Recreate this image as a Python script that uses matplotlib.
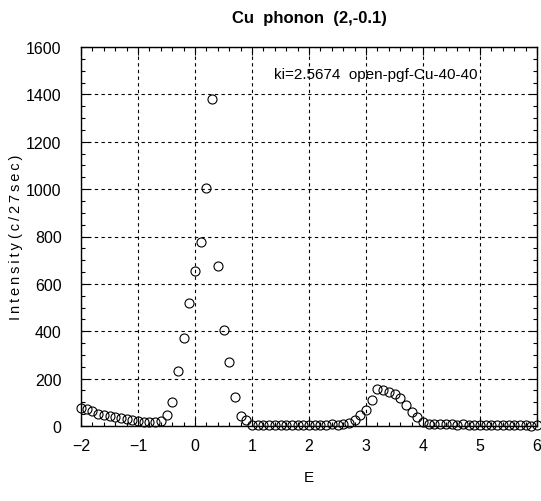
import numpy as np
import matplotlib
matplotlib.use("Agg")
import matplotlib.pyplot as plt
from matplotlib.ticker import MultipleLocator

plt.rcParams['font.family'] = ['Liberation Sans', 'DejaVu Sans']

# energy scan and counts
energia = [-2.0, -1.9, -1.8, -1.7, -1.6, -1.5, -1.4, -1.3, -1.2, -1.1,
           -1.0, -0.9, -0.8, -0.7, -0.6, -0.5, -0.4, -0.3, -0.2, -0.1,
           0.0, 0.1, 0.2, 0.3, 0.4, 0.5, 0.6, 0.7, 0.8, 0.9,
           1.0, 1.1, 1.2, 1.3, 1.4, 1.5, 1.6, 1.7, 1.8, 1.9,
           2.0, 2.1, 2.2, 2.3, 2.4, 2.5, 2.6, 2.7, 2.8, 2.9,
           3.0, 3.1, 3.2, 3.3, 3.4, 3.5, 3.6, 3.7, 3.8, 3.9,
           4.0, 4.1, 4.2, 4.3, 4.4, 4.5, 4.6, 4.7, 4.8, 4.9,
           5.0, 5.1, 5.2, 5.3, 5.4, 5.5, 5.6, 5.7, 5.8, 5.9,
           6.0]
intensidade = [78, 70, 63, 52, 46, 42, 37, 33, 30, 24,
               20, 17, 16, 18, 22, 46, 103, 233, 370, 520,
               655, 775, 1005, 1380, 676, 406, 271, 124, 43, 25,
               6, 4, 5, 4, 5, 6, 5, 4, 5, 6,
               5, 4, 6, 5, 7, 6, 8, 14, 24, 46,
               69, 111, 156, 150, 142, 134, 117, 89, 61, 37,
               18, 8, 10, 8, 7, 8, 6, 7, 5, 6,
               4, 5, 4, 3, 4, 3, 4, 3, 3, 2,
               3]

fig = plt.figure(figsize=(5.41, 5.02), dpi=100)
ax = fig.add_axes([81 / 541, 75 / 502, 456 / 541, 379 / 502])

ax.plot(energia, intensidade, linestyle='none', marker='o', markersize=6.5,
        markerfacecolor='none', markeredgecolor='black', markeredgewidth=0.8,
        clip_on=False, zorder=3)

ax.set_xlim(-2, 6)
ax.set_ylim(0, 1600)
ax.xaxis.set_major_locator(MultipleLocator(1))
ax.xaxis.set_minor_locator(MultipleLocator(0.2))
ax.yaxis.set_major_locator(MultipleLocator(200))
ax.yaxis.set_minor_locator(MultipleLocator(50))
ax.tick_params(which='both', direction='in', top=True, right=True,
               labelsize=11.5, width=0.8)
ax.tick_params(which='major', length=6)
ax.tick_params(axis='x', which='major', pad=9)
ax.tick_params(axis='y', which='major', pad=14)
ax.tick_params(which='minor', length=3)
ax.grid(True, which='major', color='black', linestyle=(0, (3, 3)), linewidth=0.8)
for s in ax.spines.values():
    s.set_linewidth(1.0)

ax.set_title('Cu  phonon  (2,-0.1)', fontsize=12, fontweight='bold', pad=18)
ax.set_xlabel('E', fontsize=11, labelpad=12)
rotulo_y = '\u2009'.join('Intensity') + ' ' + '\u2009'.join('(c/27sec)')
ax.set_ylabel(rotulo_y, fontsize=10.5, labelpad=2)
ax.text(1.38, 1485, 'ki=2.5674  open-pgf-Cu-40-40', fontsize=11, va='center')

fig.savefig('out.png', dpi=100)
